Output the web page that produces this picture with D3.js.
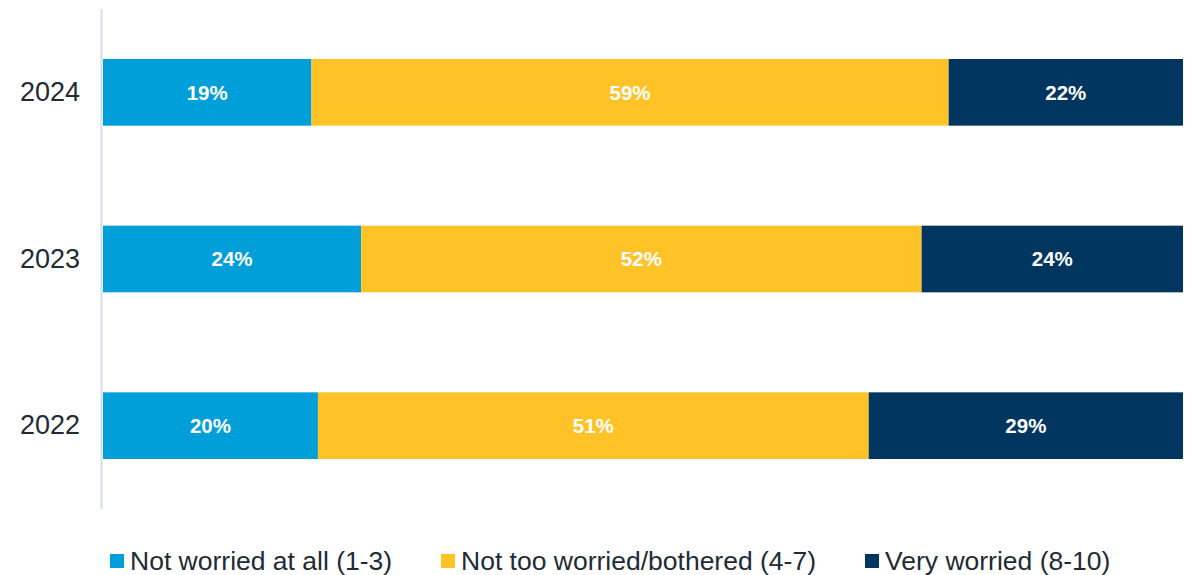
<!DOCTYPE html>
<html>
<head>
<meta charset="utf-8">
<script src="https://cdn.jsdelivr.net/npm/d3@7"></script>
<style>
  html, body { margin: 0; padding: 0; background: #fff; }
  svg { display: block; font-family: "Liberation Sans", Arial, sans-serif; }
</style>
</head>
<body>
<svg id="chart" width="1192" height="575"></svg>
<script>
const years = ["2024", "2023", "2022"];
const seriesNames = ["Not worried at all (1-3)", "Not too worried/bothered (4-7)", "Very worried (8-10)"];
const notWorried = [19.3, 23.9, 19.9];
const notTooWorried = [59.0, 51.9, 51.0];
const veryWorried = [21.7, 24.2, 29.1];
const colors = ["#009FDA", "#FFC328", "#00355F"];

const rows = years.map((y, i) => ({ year: y, s0: notWorried[i], s1: notTooWorried[i], s2: veryWorried[i] }));
const keys = ["s0", "s1", "s2"];
const stacked = d3.stack().keys(keys)(rows);

const svg = d3.select("#chart");
const x = d3.scaleLinear().domain([0, 100]).range([103, 1183]);
const y = d3.scaleBand().domain(years).range([9, 509]).paddingInner(0.6).paddingOuter(0.3);

// axis line
svg.append("line")
  .attr("x1", 101.5).attr("x2", 101.5)
  .attr("y1", 9).attr("y2", 509)
  .attr("stroke", "#D5DEE5").attr("stroke-width", 2);

const layers = svg.selectAll("g.layer").data(stacked).join("g")
  .attr("class", "layer").attr("fill", (d, i) => colors[i]);

layers.selectAll("rect").data(d => d).join("rect")
  .attr("x", d => x(d[0]))
  .attr("width", d => x(d[1]) - x(d[0]))
  .attr("y", d => y(d.data.year))
  .attr("height", y.bandwidth());

const fmt = d3.format(".0f");
layers.selectAll("text").data(d => d.map(v => ({ v, key: d.key }))).join("text")
  .attr("x", d => (x(d.v[0]) + x(d.v[1])) / 2)
  .attr("y", d => y(d.v.data.year) + y.bandwidth() / 2)
  .attr("dy", "0.36em")
  .attr("text-anchor", "middle")
  .attr("fill", "#fff")
  .attr("font-weight", "bold")
  .attr("font-size", 20.5)
  .text(d => fmt(d.v[1] - d.v[0]) + "%");

// year labels
const yAxis = d3.axisLeft(y).tickSize(0).tickPadding(0);
const ga = svg.append("g").attr("transform", "translate(80,0)").call(yAxis);
ga.select(".domain").remove();
ga.selectAll("text").attr("font-size", 27).attr("fill", "#222B35")
  .attr("font-family", "Liberation Sans, Arial, sans-serif");

// legend
const legendX = [110, 441, 865];
const lg = svg.selectAll("g.leg").data(seriesNames).join("g")
  .attr("class", "leg")
  .attr("transform", (d, i) => `translate(${legendX[i]},0)`);
lg.append("rect").attr("x", 0).attr("y", 554).attr("width", 14).attr("height", 14)
  .attr("fill", (d, i) => colors[i]);
lg.append("text").attr("x", 20).attr("y", 570)
  .attr("font-size", 26.5).attr("fill", "#222B35").text(d => d);
</script>
</body>
</html>
